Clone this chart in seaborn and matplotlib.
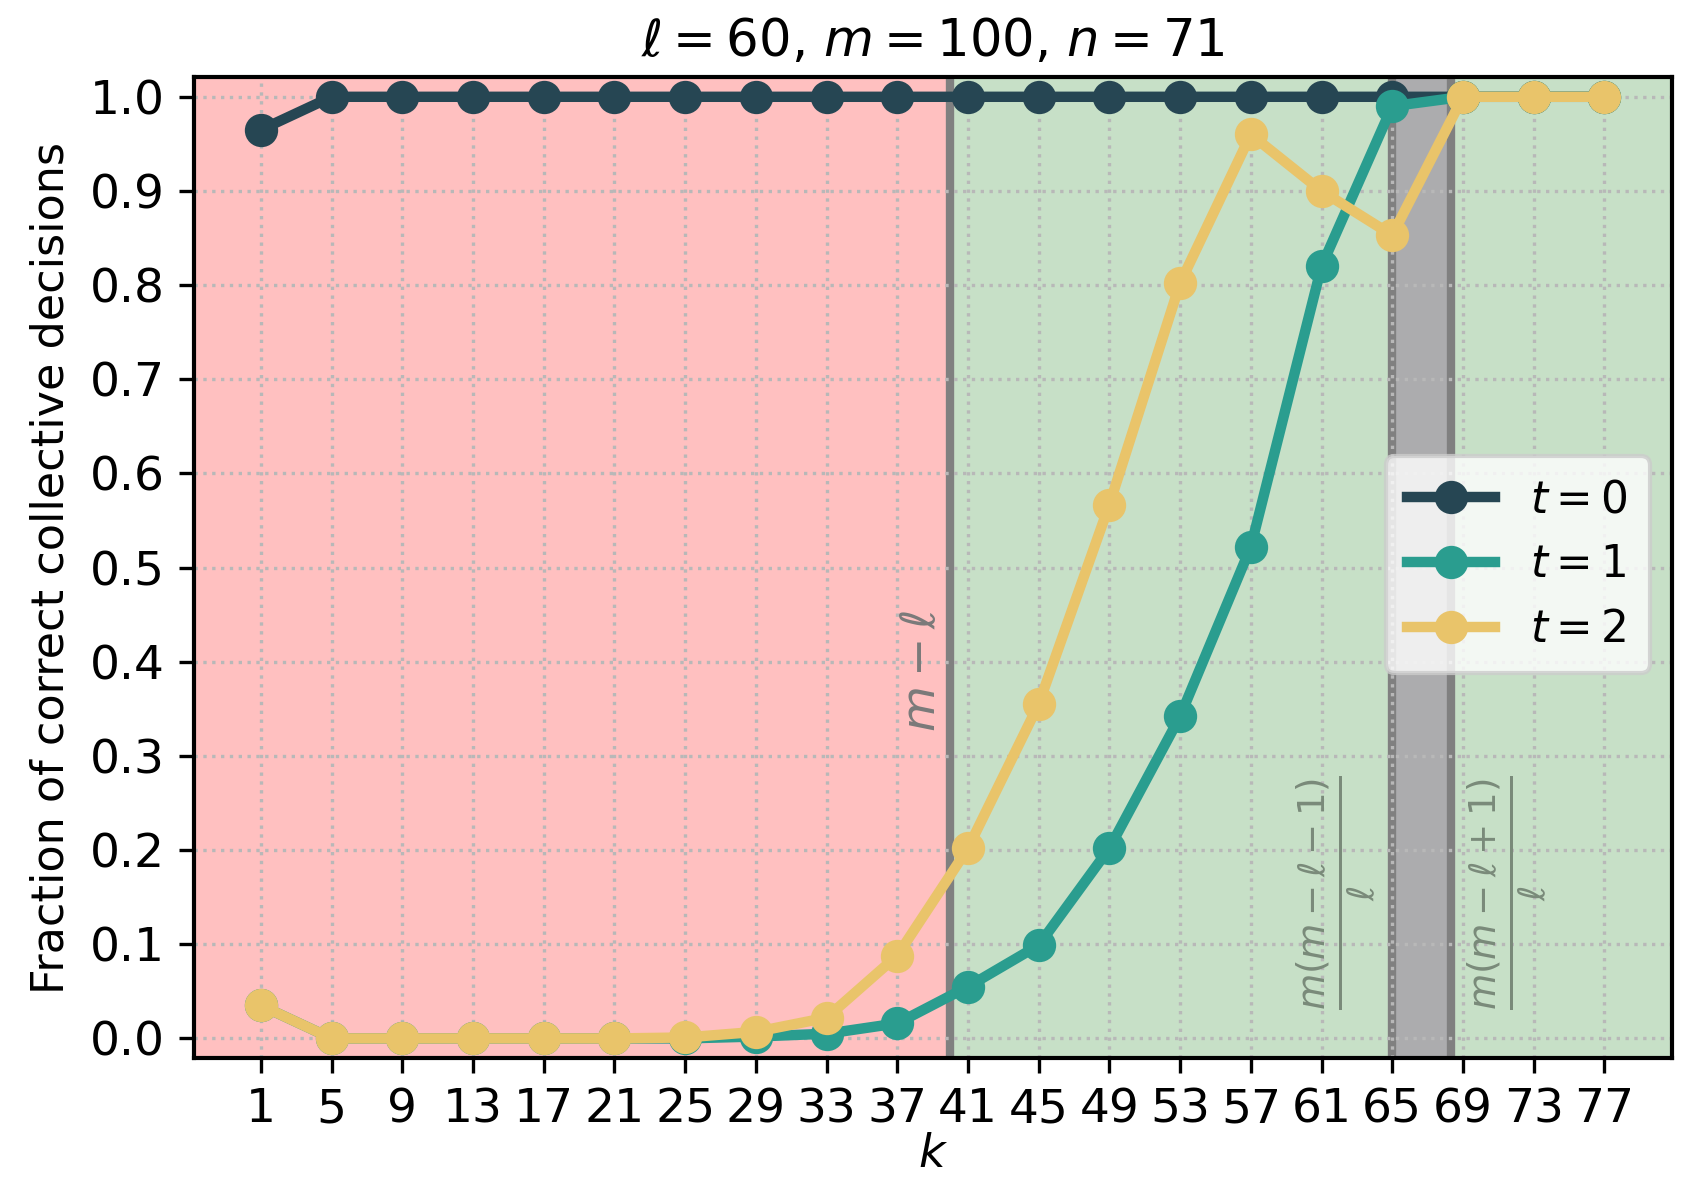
import numpy as np
import pandas as pd
import seaborn as sns
import matplotlib.pyplot as plt

# parameters of the run
l, m, n = 60, 100, 71

k = [1, 5, 9, 13, 17, 21, 25, 29, 33, 37, 41, 45, 49, 53, 57, 61, 65, 69, 73, 77]
t0 = [0.965, 1.0, 1.0, 1.0, 1.0, 1.0, 1.0, 1.0, 1.0, 1.0,
      1.0, 1.0, 1.0, 1.0, 1.0, 1.0, 1.0, 1.0, 1.0, 1.0]
t1 = [0.035, 0.0, 0.0, 0.0, 0.0, 0.0, 0.0, 0.002, 0.005, 0.016,
      0.055, 0.099, 0.202, 0.342, 0.522, 0.82, 0.99, 1.0, 1.0, 1.0]
t2 = [0.035, 0.0, 0.0, 0.0, 0.0, 0.0, 0.001, 0.007, 0.022, 0.088,
      0.202, 0.355, 0.567, 0.802, 0.96, 0.9, 0.853, 1.0, 1.0, 1.0]
labels = ['$t = 0$', '$t = 1$', '$t = 2$']
colors = ['#264653', '#2a9d8f', '#e9c46a']

df = pd.concat([pd.DataFrame({'k': k, 'frac': v, 't': lab})
                for v, lab in zip([t0, t1, t2], labels)])

fig, ax = plt.subplots(figsize=(1685/300, 1185/300), dpi=300)

# regions
lo = m - l
g1 = m*(m-l-1)/l
g2 = m*(m-l+1)/l
ax.axvspan(-10, lo, color='#ffc0c0', zorder=0, lw=0)
ax.axvspan(lo, 200, color='#c7e0c7', zorder=0, lw=0)
ax.axvspan(g1, g2, color='#acacae', zorder=0.5, lw=0)
for xv in [lo, g1, g2]:
    ax.axvline(xv, color='#808080', lw=2, zorder=1)

ax.grid(True, ls=':', color='#b8b8b8', lw=0.8, zorder=0.8)

sns.lineplot(data=df, x='k', y='frac', hue='t', palette=colors, marker='o',
             markersize=8, markeredgewidth=0, lw=2.5, ax=ax, zorder=3)

ax.text(38.4, 0.39, r'$m-\ell$', rotation=90, color='#7a7a7a', fontsize=11.3,
        ha='center', va='center')
ax.text(61.9, 0.155, r'$\frac{m(m-\ell-1)}{\ell}$', rotation=90, color='#7a8a7a',
        fontsize=12.8, ha='center', va='center')
ax.text(71.6, 0.155, r'$\frac{m(m-\ell+1)}{\ell}$', rotation=90, color='#7a8a7a',
        fontsize=12.8, ha='center', va='center')

ax.set_xlim(-2.8, 80.8)
ax.set_ylim(-0.021, 1.021)
ax.set_xticks(k)
ax.set_yticks(np.arange(0, 1.01, 0.1))
ax.tick_params(labelsize=11.3)
ax.set_xlabel('$k$', fontsize=11, labelpad=0)
ax.set_ylabel('Fraction of correct collective decisions', fontsize=10.7)
ax.set_title(rf'$\ell = {l}$, $m = {m}$, $n = {n}$', fontsize=12.3, pad=5)
for s in ax.spines.values():
    s.set_linewidth(1.0)

ax.legend(title=None, loc='center right', fontsize=10.5, handlelength=2.0,
          borderpad=0.5, labelspacing=0.5, framealpha=0.8,
          bbox_to_anchor=(1.0, 0.503))

plt.subplots_adjust(left=0.115, right=0.992, top=0.935, bottom=0.107)
plt.savefig('out.png', dpi=300)
